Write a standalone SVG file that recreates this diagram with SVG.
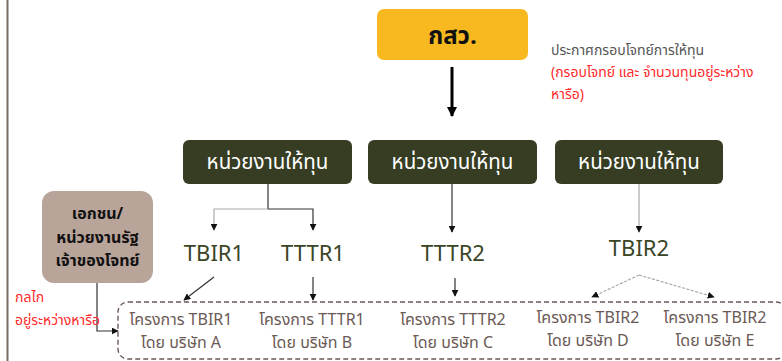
<svg xmlns="http://www.w3.org/2000/svg" width="782" height="361" viewBox="0 0 782 361">
<style>
text{font-family:"Noto Sans Thai","Noto Sans","DejaVu Sans",sans-serif;text-anchor:middle}
.hd{fill:#ffffff;font-size:20.5px}
.code{fill:#3a4526;font-size:22px}
.prj{fill:#6b5a55;font-size:16px}
.red{fill:#ff2a2a;font-size:14px;text-anchor:start}
.note{fill:#555555;font-size:14px;text-anchor:start}
.own{font-size:16px;font-weight:bold;fill:#111111}
.dk{stroke:#333333;stroke-width:1.2;fill:none}
.lt{stroke:#aaaaaa;stroke-width:1.2;fill:none}
</style>
<defs>
<marker id="ah" viewBox="0 0 10 10" refX="9" refY="5" markerWidth="7" markerHeight="7" markerUnits="userSpaceOnUse" orient="auto"><path d="M0,0 L10,5 L0,10 Z" fill="#111111"/></marker>
<marker id="ahb" viewBox="0 0 10 10" refX="9" refY="5" markerWidth="10" markerHeight="10" markerUnits="userSpaceOnUse" orient="auto"><path d="M0,0 L10,5 L0,10 Z" fill="#000000"/></marker>
</defs>
<rect width="782" height="361" fill="#ffffff"/>
<line x1="7.5" y1="0" x2="7.5" y2="361" stroke="#7a6a64" stroke-width="2"/>

<g id="projects">
<rect x="118" y="302" width="668" height="57" rx="10" fill="none" stroke="#6b5a55" stroke-width="1.4" stroke-dasharray="5,3"/>
</g>

<g id="connectors">
<line x1="452" y1="67" x2="452" y2="116" stroke="#000" stroke-width="3" marker-end="url(#ahb)"/>
<path class="dk" d="M268,184 V209"/>
<path class="lt" d="M268,209 H214 V230" marker-end="url(#ah)"/>
<path class="dk" d="M268,209 H313 V230" marker-end="url(#ah)"/>
<line class="dk" x1="214" y1="277" x2="184" y2="300" marker-end="url(#ah)"/>
<line class="dk" x1="313" y1="277" x2="313" y2="300" marker-end="url(#ah)"/>
<line class="dk" x1="452" y1="184" x2="452" y2="232" marker-end="url(#ah)"/>
<line class="dk" x1="455" y1="278" x2="455" y2="296" marker-end="url(#ah)"/>
<line class="lt" x1="639" y1="184" x2="639" y2="232" marker-end="url(#ah)"/>
<line class="lt" x1="639" y1="275" x2="592" y2="297" stroke-dasharray="3,1.5" marker-end="url(#ah)"/>
<line class="lt" x1="639" y1="275" x2="714" y2="297" stroke-dasharray="3,1.5" marker-end="url(#ah)"/>
<path class="dk" d="M97,283 V331 H118" marker-end="url(#ah)"/>
</g>

<g id="tsri">
<rect x="377" y="9" width="151" height="51" rx="7" fill="#f8b920"/>
<text x="452.5" y="44" font-size="24" font-weight="bold" fill="#111111">กสว.</text>
</g>
<g id="announce">
<text class="note" x="551" y="55">ประกาศกรอบโจทย์การให้ทุน</text>
<text class="red" x="551" y="77">(กรอบโจทย์ และ จำนวนทุนอยู่ระหว่าง</text>
<text class="red" x="551" y="99">หารือ)</text>
</g>

<g id="funder1">
<rect x="183" y="140" width="169" height="44" rx="6" fill="#363d23"/>
<text class="hd" x="267.5" y="169">หน่วยงานให้ทุน</text>
</g>
<g id="funder2">
<rect x="368" y="140" width="169" height="44" rx="6" fill="#363d23"/>
<text class="hd" x="452.5" y="169">หน่วยงานให้ทุน</text>
</g>
<g id="funder3">
<rect x="555" y="140" width="168" height="44" rx="6" fill="#363d23"/>
<text class="hd" x="639" y="169">หน่วยงานให้ทุน</text>
</g>

<g id="owner">
<rect x="42" y="191" width="111" height="92" rx="12" fill="#b9a49a"/>
<text class="own" x="97.5" y="219">เอกชน/</text>
<text class="own" x="97.5" y="243">หน่วยงานรัฐ</text>
<text class="own" x="97.5" y="266">เจ้าของโจทย์</text>
</g>
<g id="mechanism">
<text class="red" x="15" y="302">กลไก</text>
<text class="red" x="15" y="325">อยู่ระหว่างหารือ</text>
</g>

<g id="tbir1"><text class="code" x="214" y="261">TBIR1</text></g>
<g id="tttr1"><text class="code" x="313" y="261">TTTR1</text></g>
<g id="tttr2"><text class="code" x="453" y="261">TTTR2</text></g>
<g id="tbir2"><text class="code" x="639" y="256">TBIR2</text></g>

<g id="projA"><text class="prj" x="181" y="325">โครงการ TBIR1</text><text class="prj" x="181" y="348">โดย บริษัท A</text></g>
<g id="projB"><text class="prj" x="312" y="325">โครงการ TTTR1</text><text class="prj" x="312" y="348">โดย บริษัท B</text></g>
<g id="projC"><text class="prj" x="453" y="325">โครงการ TTTR2</text><text class="prj" x="453" y="348">โดย บริษัท C</text></g>
<g id="projD"><text class="prj" x="588" y="323">โครงการ TBIR2</text><text class="prj" x="588" y="346">โดย บริษัท D</text></g>
<g id="projE"><text class="prj" x="715" y="323">โครงการ TBIR2</text><text class="prj" x="715" y="346">โดย บริษัท E</text></g>
</svg>
